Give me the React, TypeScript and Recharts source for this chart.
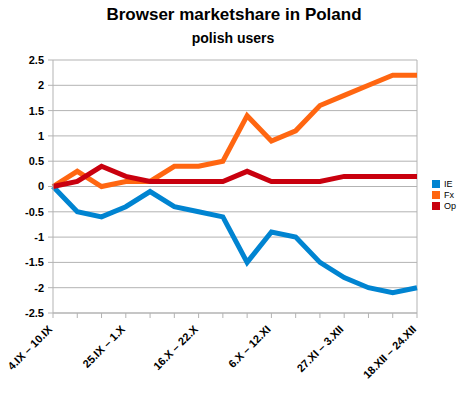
import { LineChart, Line, XAxis, YAxis, CartesianGrid, ReferenceLine } from 'recharts'

const weeks = [
  '4.IX – 10.IX', '11.IX – 17.IX', '18.IX – 24.IX', '25.IX – 1.X',
  '2.X – 8.X', '9.X – 15.X', '16.X – 22.X', '23.X – 29.X',
  '30.X – 5.XI', '6.X – 12.XI', '13.XI – 19.XI', '20.XI – 26.XI',
  '27.XI – 3.XII', '4.XII – 10.XII', '11.XII – 17.XII', '18.XII – 24.XII',
]
const ie = [0, -0.5, -0.6, -0.4, -0.1, -0.4, -0.5, -0.6, -1.5, -0.9, -1.0, -1.5, -1.8, -2.0, -2.1, -2.0]
const fx = [0, 0.3, 0, 0.1, 0.1, 0.4, 0.4, 0.5, 1.4, 0.9, 1.1, 1.6, 1.8, 2.0, 2.2, 2.2]
const op = [0, 0.1, 0.4, 0.2, 0.1, 0.1, 0.1, 0.1, 0.3, 0.1, 0.1, 0.1, 0.2, 0.2, 0.2, 0.2]
const yTicks = [-2.5, -2, -1.5, -1, -0.5, 0, 0.5, 1, 1.5, 2, 2.5]

const series = [
  { key: 'IE', color: '#0084d1' },
  { key: 'Fx', color: '#ff6611' },
  { key: 'Op', color: '#c9000e' },
]

const data = weeks.map((w, i) => ({ week: w, IE: ie[i], Fx: fx[i], Op: op[i] }))

const font = '"Liberation Sans", Arial, sans-serif'

function WeekTick(props: any) {
  const { x, y, payload, index } = props
  if (index % 3 !== 0) return null
  return (
    <text
      x={x}
      y={y + 10}
      transform={`rotate(-45 ${x} ${y + 10})`}
      textAnchor="end"
      fontSize={11}
      fontWeight="bold"
      fontFamily={font}
      fill="#000"
    >
      {payload.value}
    </text>
  )
}

export default function App() {
  return (
    <div style={{ position: 'absolute', left: 0, top: 0, width: 472, height: 397, background: '#fff' }}>
      <div style={{ position: 'absolute', left: 0, width: 468, top: 5, textAlign: 'center', fontFamily: font, fontWeight: 'bold', fontSize: 17 }}>
        Browser marketshare in Poland
      </div>
      <div style={{ position: 'absolute', left: 0, width: 466, top: 30, textAlign: 'center', fontFamily: font, fontWeight: 'bold', fontSize: 14 }}>
        polish users
      </div>
      {/* legend */}
      <div style={{ position: 'absolute', left: 432, top: 178, fontFamily: font, fontSize: 9 }}>
        {series.map((s) => (
          <div key={s.key} style={{ display: 'flex', alignItems: 'center', height: 11 }}>
            <span style={{ width: 8, height: 8, background: s.color, marginRight: 4 }} />
            <span>{s.key}</span>
          </div>
        ))}
      </div>
      <LineChart width={472} height={397} data={data} margin={{ top: 60, right: 55, left: 0, bottom: 0 }}>
        <CartesianGrid vertical={false} stroke="#b3b3b3" />
        <XAxis
          dataKey="week"
          interval={0}
          height={84}
          tick={<WeekTick />}
          tickSize={5}
          stroke="#b3b3b3"
        />
        <YAxis
          width={53}
          domain={[-2.5, 2.5]}
          ticks={yTicks}
          tickSize={5}
          tickMargin={4}
          stroke="#b3b3b3"
          tick={{ fontSize: 11, fontWeight: 'bold', fill: '#000', fontFamily: font }}
        />
        <ReferenceLine x={weeks[weeks.length - 1]} stroke="#b3b3b3" />
        {series.map((s) => (
          <Line
            key={s.key}
            dataKey={s.key}
            stroke={s.color}
            strokeWidth={5}
            dot={false}
            type="linear"
            isAnimationActive={false}
          />
        ))}
      </LineChart>
    </div>
  )
}
